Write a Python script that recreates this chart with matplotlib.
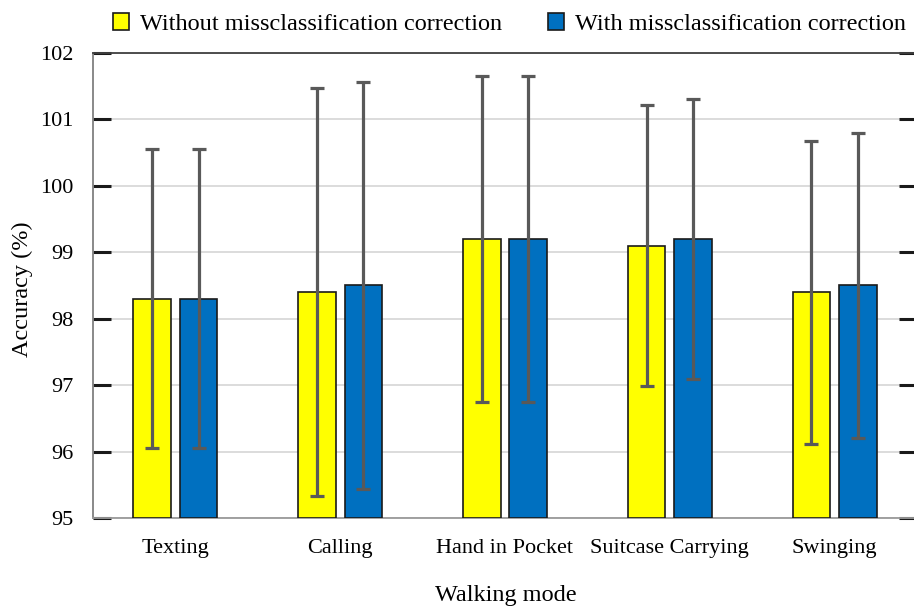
import matplotlib
matplotlib.use("Agg")
import matplotlib.pyplot as plt
import numpy as np

modes = ["Texting", "Calling", "Hand in Pocket", "Suitcase Carrying", "Swinging"]
acc_without = [98.3, 98.4, 99.2, 99.1, 98.4]
acc_with = [98.3, 98.5, 99.2, 99.2, 98.5]
err_without = [2.25, 3.07, 2.45, 2.11, 2.28]
err_with = [2.25, 3.06, 2.45, 2.11, 2.29]
series_names = ["Without missclassification correction", "With missclassification correction"]
yticks = [95, 96, 97, 98, 99, 100, 101, 102]

plt.rcParams['font.family'] = ['Liberation Serif', 'DejaVu Serif']

fig = plt.figure(figsize=(9.14, 6.07), dpi=100)
W, H = 914, 607
left, right, top, bottom = 93, 917, 53, 518
ax = fig.add_axes([left / W, 1 - bottom / H, (right - left) / W, (bottom - top) / H])

x = np.arange(len(modes))
bw = 0.228
off = 0.141
err_kw = dict(ecolor="#595959", elinewidth=2.3, capsize=5, capthick=2.3)
b1 = ax.bar(x - off, [v - 95 for v in acc_without], bw, bottom=95, color="#ffff00",
            edgecolor="#1a1a1a", linewidth=1.2, yerr=err_without, error_kw=err_kw, zorder=3)
b2 = ax.bar(x + off, [v - 95 for v in acc_with], bw, bottom=95, color="#0070c0",
            edgecolor="#1a1a1a", linewidth=1.2, yerr=err_with, error_kw=err_kw, zorder=3)

ax.set_xlim(-0.5, len(modes) - 0.5)
ax.set_ylim(95, 102)
ax.set_yticks(yticks)
ax.set_yticklabels([str(t) for t in yticks], fontsize=16)
ax.set_xticks(x)
ax.set_xticklabels(modes, fontsize=16)
ax.tick_params(axis="x", length=0, pad=15)
ax.tick_params(axis="y", direction="in", length=13, width=2.2, color="#1a1a1a",
               right=True, left=True, pad=14)
ax.grid(axis="y", color="#d9d9d9", linewidth=1.3, zorder=0)
ax.set_axisbelow(True)

ax.spines["left"].set_color("#808080")
ax.spines["bottom"].set_color("#9a9a9a")
ax.spines["top"].set_color("#404040")
ax.spines["right"].set_color("#404040")
for s in ax.spines.values():
    s.set_linewidth(1.3)

ax.set_ylabel("Accuracy (%)", fontsize=17.5)
ax.yaxis.set_label_coords((22 - left) / (right - left), (bottom - 289) / (bottom - top))
ax.yaxis.label.set_verticalalignment("center")
ax.set_xlabel("Walking mode", fontsize=17.5)
ax.xaxis.set_label_coords((506 - left) / (right - left), -(595 - bottom) / (bottom - top))
ax.xaxis.label.set_verticalalignment("center")

fig.legend([b1, b2], series_names, loc="center left", bbox_to_anchor=(113 / W, 1 - 24 / H),
           ncol=2, frameon=False, fontsize=17.5, handlelength=0.66, handleheight=0.66,
           handletextpad=0.45, columnspacing=1.9, borderaxespad=0, borderpad=0)

fig.savefig("out.png", dpi=100)
